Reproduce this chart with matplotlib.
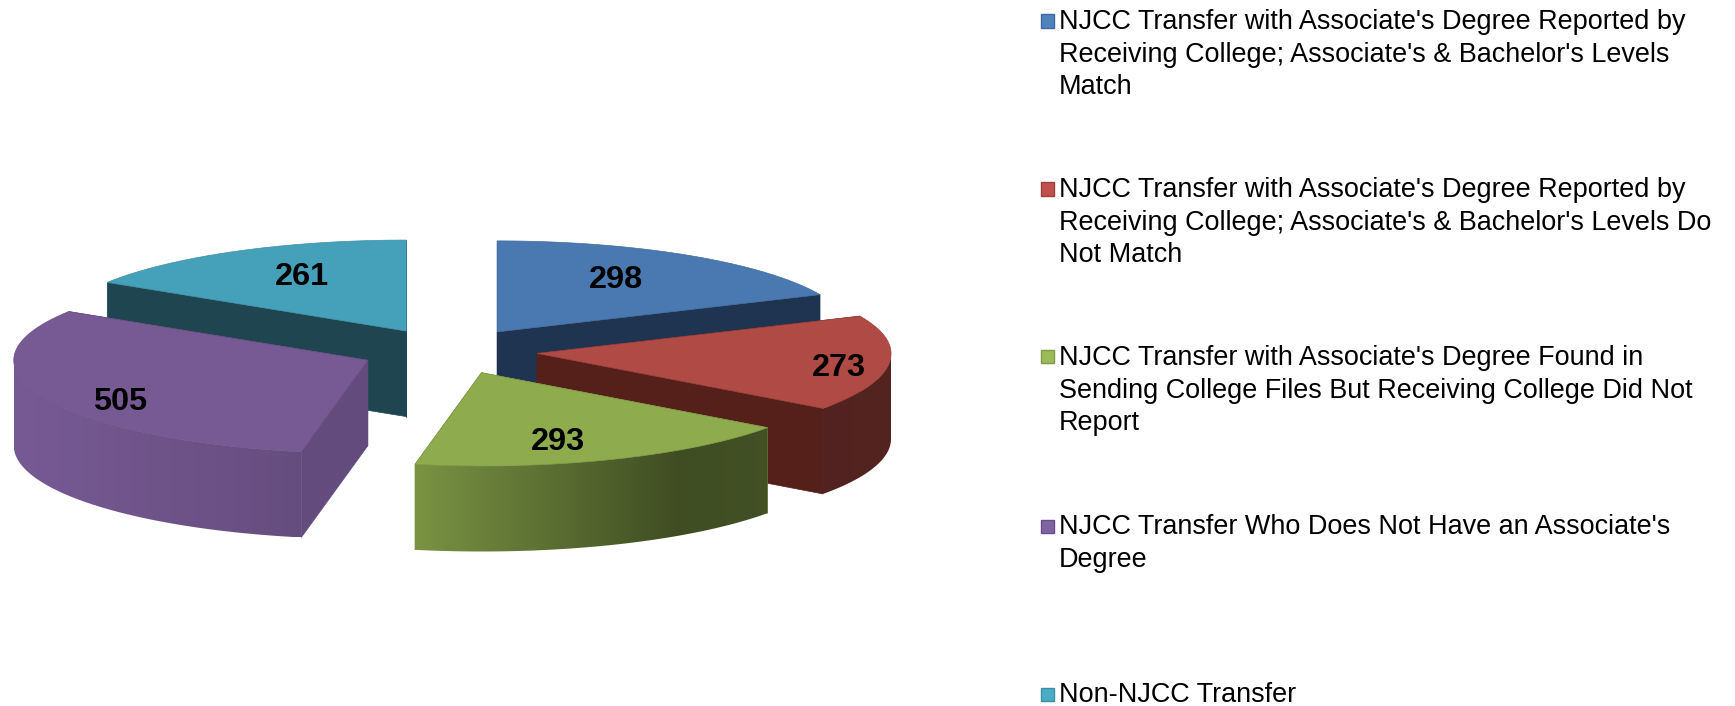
#Exploded 3-D style pie of NJCC transfer groups
import matplotlib
matplotlib.use('Agg')
import matplotlib.pyplot as plt
from matplotlib.colors import to_rgb
from matplotlib.patches import Polygon, Rectangle
import numpy as np

values = [298, 273, 293, 505, 261]
legend_labels = [
    "NJCC Transfer with Associate's Degree Reported by\nReceiving College; Associate's & Bachelor's Levels\nMatch",
    "NJCC Transfer with Associate's Degree Reported by\nReceiving College; Associate's & Bachelor's Levels Do\nNot Match",
    "NJCC Transfer with Associate's Degree Found in\nSending College Files But Receiving College Did Not\nReport",
    "NJCC Transfer Who Does Not Have an Associate's\nDegree",
    "Non-NJCC Transfer",
]
top_colors = ['#4A78B0', '#AF4A45', '#8EAC4E', '#775A94', '#45A0BA']
cut_colors = ['#1E3450', '#552019', '#7B9140', '#634B7E', '#1F4650']
legend_colors = ['#4F81BD', '#C0504D', '#9BBB59', '#8064A2', '#4BACC6']
legend_edges = ['#3A6A9E', '#A03E3B', '#7F9C45', '#684F88', '#3B8FA6']
legend_y = [21, 189, 357, 526, 694]
label_r = [0.69, 0.86, 0.76, 0.82, 0.68]
label_da = [-3.8, 1, 5, -8, 3]
label_dy = [3, 5, 4, 3, 2]   #pixels

W, H = 1735, 706
CX, CY, RX, RY = 449, 351, 354, 91   #pie centre and radii, pixels
depth = 0.94
explode = 0.25
front = 1.025   #near half of the pie looks slightly deeper
draw_order = [4, 0, 3, 1, 2]

plt.rcParams['font.family'] = ['Liberation Sans', 'DejaVu Sans']

fig = plt.figure(figsize=(W / 100, H / 100), dpi=100, facecolor='white')
ax = fig.add_axes([0, 0, 1, 1])
xlim = (-CX / RX, (W - CX) / RX)
ylim = ((CY - H) / RY, CY / RY)

#slice edges, clockwise from 12 o'clock
edges = np.concatenate(([0], np.cumsum(values))) / sum(values) * 2 * np.pi


def shade(s):
    #rim gets darker going from the left of the pie to the right
    return np.interp(s, [-1, -0.2, 0.55, 1], [1.0, 0.86, 0.45, 0.48])


def ypos(c):
    return np.where(c < 0, c * front, c)


z = 1
for i in draw_order:
    a0, a1 = edges[i], edges[i + 1]
    mid = (a0 + a1) / 2
    ox = explode * np.sin(mid)
    oy = explode * ypos(np.cos(mid))
    arc = np.linspace(a0, a1, 181)
    xs = ox + np.sin(arc)
    ys = oy + ypos(np.cos(arc))

    #two cut faces
    for a in (a0, a1):
        ex, ey = ox + np.sin(a), oy + ypos(np.cos(a))
        ax.add_patch(Polygon([(ox, oy), (ex, ey), (ex, ey - depth), (ox, oy - depth)],
                             closed=True, fc=cut_colors[i], ec=cut_colors[i], lw=0.5, zorder=z))
    z += 1

    #rim, only the part facing the viewer, gradient along x
    near = np.cos(arc) < 0
    if near.any():
        rx, ry = xs[near], ys[near]
        rim = np.column_stack((np.r_[rx, rx[::-1]], np.r_[ry, ry[::-1] - depth]))
        patch = Polygon(rim, closed=True, fc='none', ec='none', transform=ax.transData)
        ax.add_patch(patch)
        gx = np.linspace(rx.min(), rx.max(), 400)
        grad = np.outer(shade(gx - ox), to_rgb(top_colors[i]))[np.newaxis, :, :]
        im = ax.imshow(grad, extent=(rx.min(), rx.max(), ry.min() - depth, ry.max()),
                       aspect='auto', origin='lower', interpolation='bilinear', zorder=z)
        im.set_clip_path(patch)
    z += 1

    #top face
    top = np.column_stack((np.r_[ox, xs], np.r_[oy, ys]))
    edge = tuple(c * 0.9 for c in to_rgb(top_colors[i]))
    ax.add_patch(Polygon(top, closed=True, fc=top_colors[i], ec=edge, lw=0.5, zorder=z))
    z += 1

ax.set_xlim(xlim)
ax.set_ylim(ylim)
ax.axis('off')

for i in range(len(values)):
    mid = (edges[i] + edges[i + 1]) / 2
    a = mid + np.radians(label_da[i])
    ax.text(explode * np.sin(mid) + label_r[i] * np.sin(a),
            explode * np.cos(mid) + label_r[i] * np.cos(a) - label_dy[i] / RY,
            str(values[i]), fontsize=23.4, fontweight='bold', color='black',
            ha='center', va='center', zorder=50)

#legend on the right
for i, lab in enumerate(legend_labels):
    y = legend_y[i]
    fig.add_artist(Rectangle((1041 / W, 1 - (y + 6.5) / H), 13 / W, 13 / H, transform=fig.transFigure,
                             fc=legend_colors[i], ec=legend_edges[i], lw=1))
    fig.text(1059 / W, 1 - (y - 12) / H, lab, fontsize=19.45, color='black',
             ha='left', va='top', linespacing=1.336)

fig.savefig('out.png', dpi=100)
